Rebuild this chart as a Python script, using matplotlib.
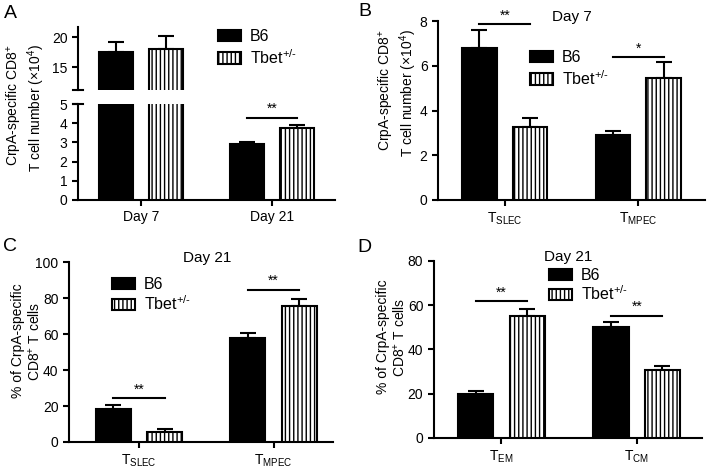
import numpy as np
from matplotlib import pyplot as plt

plt.rcParams['font.family'] = ['Liberation Sans', 'DejaVu Sans']
plt.rcParams['mathtext.fontset'] = 'custom'
plt.rcParams['mathtext.rm'] = 'Liberation Sans'
plt.rcParams['mathtext.it'] = 'Liberation Sans:italic'
plt.rcParams['hatch.linewidth'] = 1.0

# data
groups_A = ['Day 7', 'Day 21']
b6_A = [17.5, 2.9]
b6_A_err = [1.7, 0.15]
tbet_A = [18.0, 3.73]
tbet_A_err = [2.2, 0.2]
sig_A = [None, '**']
sig_A_y = [None, 4.3]

groups_B = [r'T$_{\mathrm{SLEC}}$', r'T$_{\mathrm{MPEC}}$']
b6_B = [6.79, 2.9]
b6_B_err = [0.82, 0.18]
tbet_B = [3.27, 5.47]
tbet_B_err = [0.4, 0.7]
sig_B = ['**', '*']
sig_B_y = [7.86, 6.38]

groups_C = [r'T$_{\mathrm{SLEC}}$', r'T$_{\mathrm{MPEC}}$']
b6_C = [18.1, 58.0]
b6_C_err = [2.6, 2.6]
tbet_C = [5.6, 75.9]
tbet_C_err = [1.8, 3.7]
sig_C = ['**', '**']
sig_C_y = [24.4, 84.8]

groups_D = [r'T$_{\mathrm{EM}}$', r'T$_{\mathrm{CM}}$']
b6_D = [20.0, 50.1]
b6_D_err = [1.4, 2.2]
tbet_D = [55.2, 30.8]
tbet_D_err = [3.1, 1.8]
sig_D = ['**', '**']
sig_D_y = [61.7, 55.3]

label_count = 'CrpA-specific CD8$^{+}$\nT cell number (\u00d710$^{4}$)'
label_pct = '% of CrpA-specific\nCD8$^{+}$ T cells'
tbet_name = r'Tbet$^{+/\text{-}}$'

off = 0.19
w = 0.26
lw = 1.5
W, H = 711, 469


def style(ax):
    for s in ['top', 'right']:
        ax.spines[s].set_visible(False)
    for s in ['left', 'bottom']:
        ax.spines[s].set_linewidth(lw)
    ax.tick_params(direction='out', length=4, width=lw, labelsize=10)


def bars(ax, b6, b6_err, tbet, tbet_err):
    x = np.arange(len(b6))
    h1 = ax.bar(x - off, b6, w, color='black', edgecolor='black', linewidth=lw, zorder=3, label='B6')
    h2 = ax.bar(x + off, tbet, w, color='white', edgecolor='black', linewidth=lw, hatch='||||',
                zorder=3, label=tbet_name)
    ax.errorbar(x - off, b6, yerr=[np.zeros(len(b6)), b6_err], fmt='none', ecolor='black',
                elinewidth=lw, capsize=6, capthick=lw, zorder=2)
    ax.errorbar(x + off, tbet, yerr=[np.zeros(len(tbet)), tbet_err], fmt='none', ecolor='black',
                elinewidth=lw, capsize=6, capthick=lw, zorder=2)
    return h1, h2


def sig(ax, marks, ys):
    for i, (m, y) in enumerate(zip(marks, ys)):
        if m is None:
            continue
        ax.plot([i - off, i + off], [y, y], color='black', lw=lw, clip_on=False)
        ax.annotate(m, (i, y), xytext=(0, 1), textcoords='offset points', ha='center',
                    va='bottom', fontsize=10, annotation_clip=False)


def legend(ax, handles, px, py, spacing):
    # px, py: top-left of the legend in picture pixels
    ax.legend(handles=handles, loc='upper left', bbox_to_anchor=(px / W, 1 - py / H),
              bbox_transform=fig.transFigure, frameon=False, fontsize=11.5, handlelength=1.45,
              handleheight=0.75, labelspacing=spacing, handletextpad=0.55, borderpad=0,
              borderaxespad=0)


fig = plt.figure(figsize=(W / 100, H / 100), dpi=100)

# A - broken y axis
axA_top = fig.add_axes([0.1097, 0.808, 0.3613, 0.134])
axA = fig.add_axes([0.1097, 0.5736, 0.3613, 0.2044])
for ax in [axA_top, axA]:
    style(ax)
    hA = bars(ax, b6_A, b6_A_err, tbet_A, tbet_A_err)
    ax.set_xlim(-0.48, 1.48)
axA_top.set_ylim(11.2, 21.7)
axA_top.set_yticks([15, 20])
axA_top.spines['bottom'].set_visible(False)
axA_top.set_xticks([])
axA.set_ylim(0, 5)
axA.set_yticks(range(6))
axA.set_xticks([0, 1])
axA.set_xticklabels(groups_A)
axA_top.plot([-0.02, 0.02], [0, 0], transform=axA_top.transAxes, color='black', lw=lw, clip_on=False)
axA.plot([-0.02, 0.02], [1, 1], transform=axA.transAxes, color='black', lw=lw, clip_on=False)
sig(axA, sig_A, sig_A_y)
legend(axA_top, hA, 218, 29, 0.25)
fig.text(26 / W, 1 - 108 / H, label_count, rotation=90, ha='center', va='center',
         fontsize=10, multialignment='right', linespacing=1.1)

# B
axB = fig.add_axes([0.616, 0.5736, 0.3756, 0.3814])
style(axB)
hB = bars(axB, b6_B, b6_B_err, tbet_B, tbet_B_err)
axB.set_xlim(-0.5, 1.5)
axB.set_ylim(0, 8)
axB.set_yticks([0, 2, 4, 6, 8])
axB.set_xticks([0, 1])
axB.set_xticklabels(groups_B)
sig(axB, sig_B, sig_B_y)
legend(axB, hB, 530, 50, 0.25)
fig.text(398 / W, 1 - 93 / H, label_count, rotation=90, ha='center', va='center',
         fontsize=10, multialignment='right', linespacing=1.1)
fig.text(572 / W, 1 - 17 / H, 'Day 7', ha='center', va='center', fontsize=11)

# C
axC = fig.add_axes([0.097, 0.0576, 0.371, 0.3834])
style(axC)
hC = bars(axC, b6_C, b6_C_err, tbet_C, tbet_C_err)
axC.set_xlim(-0.52, 1.44)
axC.set_ylim(0, 100)
axC.set_yticks(range(0, 101, 20))
axC.set_xticks([0, 1])
axC.set_xticklabels(groups_C)
sig(axC, sig_C, sig_C_y)
legend(axC, hC, 112, 277, 0.15)
fig.text(27 / W, 1 - 341 / H, label_pct, rotation=90, ha='center', va='center',
         fontsize=10, multialignment='center', linespacing=1.1)
fig.text(207 / W, 1 - 258 / H, 'Day 21', ha='center', va='center', fontsize=11)

# D
axD = fig.add_axes([0.610, 0.0661, 0.377, 0.3774])
style(axD)
hD = bars(axD, b6_D, b6_D_err, tbet_D, tbet_D_err)
axD.set_xlim(-0.5, 1.48)
axD.set_ylim(0, 80)
axD.set_yticks(range(0, 81, 20))
axD.set_xticks([0, 1])
axD.set_xticklabels(groups_D)
sig(axD, sig_D, sig_D_y)
legend(axD, hD, 549, 268, 0.08)
fig.text(392 / W, 1 - 337 / H, label_pct, rotation=90, ha='center', va='center',
         fontsize=10, multialignment='center', linespacing=1.1)
fig.text(568 / W, 1 - 257 / H, 'Day 21', ha='center', va='center', fontsize=11)

# panel letters
for lab, px, py in [('A', 10, 13), ('B', 365, 11), ('C', 10, 246), ('D', 364, 247)]:
    fig.text(px / W, 1 - py / H, lab, ha='center', va='center', fontsize=14)

fig.savefig('out.png', dpi=100)
